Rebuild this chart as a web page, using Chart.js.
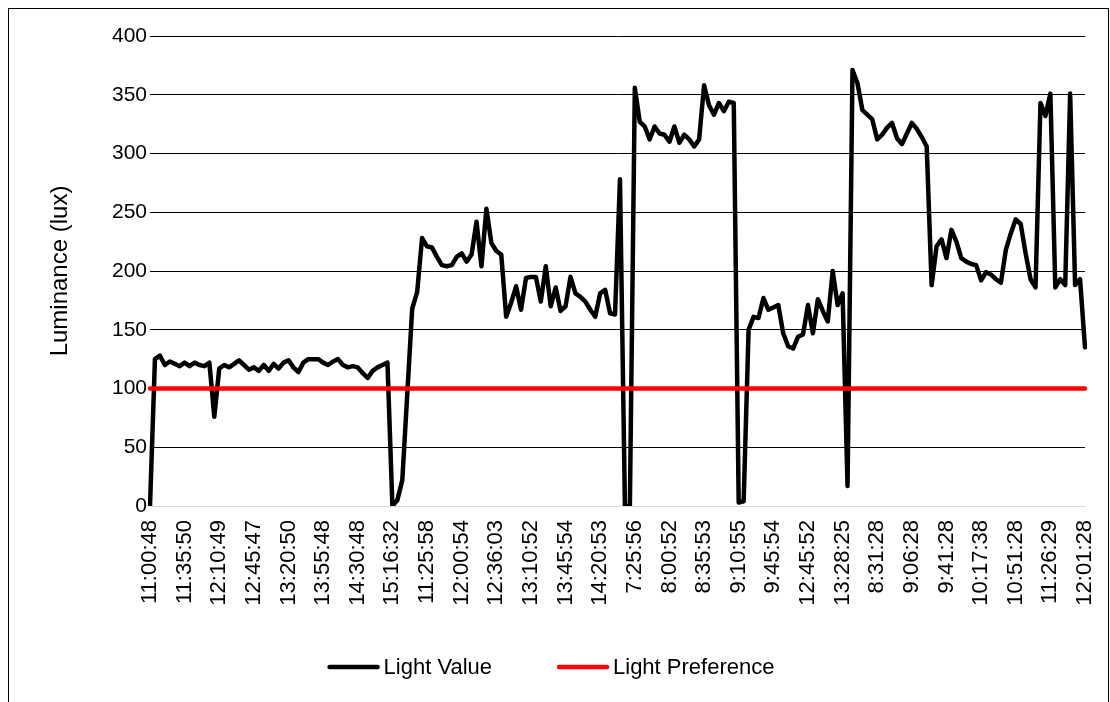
<!DOCTYPE html>
<html>
<head>
<meta charset="utf-8">
<script src="https://cdn.jsdelivr.net/npm/chart.js@4.4.1/dist/chart.umd.min.js"></script>
<style>
  html, body { margin: 0; padding: 0; background: #fff; }
  #wrap { position: relative; width: 1110px; height: 702px; overflow: hidden; }
  #frame { position: absolute; left: 8px; top: 8px; width: 1101px; height: 740px; border: 1px solid #000; box-sizing: border-box; }
  canvas { position: absolute; left: 0; top: 0; }
</style>
</head>
<body>
<div id="wrap">
  <div id="frame"></div>
  <canvas id="lightChart" width="1110" height="702"></canvas>
</div>
<script>
'use strict';

// Beschriftungen der x-Achse (jeder 7. Messpunkt)
const tickLabels = [
  '11:00:48', '11:35:50', '12:10:49', '12:45:47', '13:20:50', '13:55:48', '14:30:48',
  '15:16:32', '11:25:58', '12:00:54', '12:36:03', '13:10:52', '13:45:54', '14:20:53',
  '7:25:56', '8:00:52', '8:35:53', '9:10:55', '9:45:54', '12:45:52', '13:28:25',
  '8:31:28', '9:06:28', '9:41:28', '10:17:38', '10:51:28', '11:26:29', '12:01:28'
];
const pointsPerLabel = 7;

const lightValue = [
  0, 125, 128, 120, 123, 121, 119, 122, 119, 122, 120, 119, 122, 76,
  117, 120, 118, 121, 124, 120, 116, 118, 115, 120, 115, 121, 117, 122,
  124, 118, 114, 122, 125, 125, 125, 122, 120, 123, 125, 120, 118, 119,
  118, 113, 109, 115, 118, 120, 122, 0, 5, 22, 95, 168,
  182, 228, 221, 220, 212, 205, 204, 205, 212, 215, 208, 214, 242, 204,
  253, 224, 217, 214, 161, 173, 187, 167, 194, 195, 195, 174, 204, 170,
  186, 166, 170, 195, 181, 178, 174, 167, 161, 181, 184, 164, 163, 278,
  0, 0, 356, 327, 323, 312, 323, 317, 316, 310, 323, 309, 316, 312,
  306, 312, 358, 341, 333, 343, 336, 344, 343, 3, 4, 150, 161, 160,
  177, 167, 169, 171, 147, 136, 134, 144, 146, 171, 147, 176, 166, 157,
  200, 171, 181, 17, 371, 360, 337, 333, 329, 312, 316, 322, 326, 313,
  308, 317, 326, 321, 314, 306, 188, 221, 227, 211, 235, 225, 211, 208,
  206, 205, 192, 199, 197, 193, 190, 218, 232, 244, 240, 215, 193, 186,
  343, 332, 351, 186, 193, 188, 351, 188, 193, 135
];

// Wunschwert (lux)
const lightPreference = 100;

// Kategorien: nur jeder 7. Punkt bekommt eine Beschriftung
const categories = lightValue.map((v, i) =>
  i % pointsPerLabel === 0 ? tickLabels[i / pointsPerLabel] : ''
);
const preferenceLine = lightValue.map(() => lightPreference);

const fontFamily = '"Liberation Sans", Arial, sans-serif';
const textColor = '#000';

// Legende unten wie in Excel: Linienmuster direkt vor dem Text
const excelLegend = {
  id: 'excelLegend',
  afterDraw(chart) {
    const c = chart.ctx;
    const y = 667;
    const sampleW = 52;
    const gapText = 4;
    const gapItem = 65;
    c.save();
    c.font = `22px ${fontFamily}`;
    c.textBaseline = 'middle';
    const items = chart.data.datasets.map(ds => ({
      text: ds.label,
      color: ds.borderColor,
      w: sampleW + gapText + c.measureText(ds.label).width,
    }));
    const total = items.reduce((a, it) => a + it.w, 0) + gapItem * (items.length - 1);
    let x = 551 - total / 2;
    items.forEach(it => {
      c.strokeStyle = it.color;
      c.lineWidth = 4.5;
      c.lineCap = 'round';
      c.beginPath();
      c.moveTo(x + 2, y);
      c.lineTo(x + sampleW - 2, y);
      c.stroke();
      c.fillStyle = textColor;
      c.fillText(it.text, x + sampleW + gapText, y + 1);
      x += it.w + gapItem;
    });
    c.restore();
  },
};

const ctx = document.getElementById('lightChart').getContext('2d');

new Chart(ctx, {
  type: 'line',
  data: {
    labels: categories,
    datasets: [
      {
        label: 'Light Value',
        data: lightValue,
        borderColor: '#000',
        backgroundColor: '#000',
        borderWidth: 4.5,
        borderJoinStyle: 'round',
        borderCapStyle: 'round',
        pointRadius: 0,
        tension: 0,
        order: 1,
      },
      {
        label: 'Light Preference',
        data: preferenceLine,
        borderColor: '#ff0000',
        backgroundColor: '#ff0000',
        borderWidth: 4.5,
        borderCapStyle: 'round',
        pointRadius: 0,
        tension: 0,
        order: 0, // rote Linie liegt oben
      },
    ],
  },
  options: {
    responsive: false,
    animation: false,
    devicePixelRatio: 1,
    layout: { padding: { left: 10, right: 25, top: 36, bottom: 56 } },
    plugins: {
      tooltip: { enabled: false },
      legend: { display: false },
    },
    scales: {
      x: {
        grid: { display: false },
        border: { display: true, color: '#d9d9d9', width: 1 },
        ticks: {
          autoSkip: false,
          minRotation: 90,
          maxRotation: 90,
          padding: 6,
          color: textColor,
          font: { family: fontFamily, size: 22 },
        },
        afterFit: scale => {
          scale.height = 140;
          scale.paddingLeft = 0;
          scale.paddingRight = 0;
        },
      },
      y: {
        min: 0,
        max: 400,
        ticks: {
          stepSize: 50,
          padding: 3,
          color: textColor,
          font: { family: fontFamily, size: 21 },
        },
        grid: {
          drawTicks: false,
          color: c => (c.tick && c.tick.value === 0 ? '#d9d9d9' : '#000'),
          lineWidth: 1,
        },
        border: { display: false },
        title: {
          display: true,
          text: 'Luminance (lux)',
          color: textColor,
          font: { family: fontFamily, size: 24 },
          padding: { top: 36, bottom: 0 },
        },
        afterFit: scale => { scale.width = 140; },
      },
    },
  },
  plugins: [excelLegend],
});
</script>
</body>
</html>
